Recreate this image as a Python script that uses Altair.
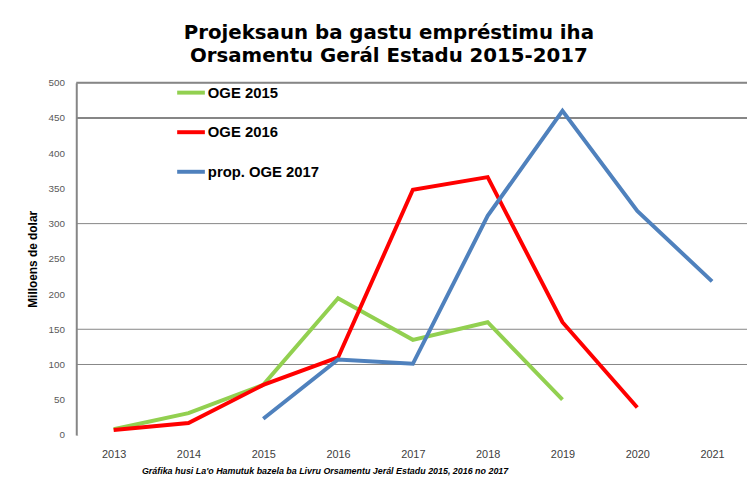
import altair as alt
import pandas as pd

# ---- data ----
years = [2013, 2014, 2015, 2016, 2017, 2018, 2019, 2020, 2021]
oge_2015 = [8, 31, 71, 194, 135, 160, 50, None, None]
oge_2016 = [7, 17, 71, 110, 348, 366, 160, 39, None]
oge_2017 = [None, None, 23, 107, 101, 311, 460, 318, 218]
series_names = ["OGE 2015", "OGE 2016", "prop. OGE 2017"]
series_colors = ["#92D050", "#FF0000", "#4F81BD"]
y_ticks = list(range(0, 501, 50))
grid_thin = [100, 150, 300]
grid_thick = [450, 500]
baseline_value = [0]

title_lines = ["Projeksaun ba gastu empréstimu iha", "Orsamentu Gerál Estadu 2015-2017"]
y_title = "Milloens de dolar"
x_title = "Gráfika husi La'o Hamutuk bazela ba Livru Orsamentu Jerál Estadu 2015, 2016 no 2017"

rows = []
for name, vals in zip(series_names, [oge_2015, oge_2016, oge_2017]):
    for yr, v in zip(years, vals):
        if v is not None:
            rows.append({"year": yr, "value": v, "series": name})
df = pd.DataFrame(rows)

PLOT_W, PLOT_H = 678, 356
x_scale = alt.Scale(domain=[2012.5, 2021.467], nice=False, zero=False)
y_scale = alt.Scale(domain=[0, 500], nice=False)

grid_col = "#868686"

y_axis = alt.Axis(
    values=y_ticks,
    grid=False,
    ticks=False,
    domain=True,
    domainColor=grid_col,
    domainWidth=2,
    labelFont="Liberation Sans",
    labelFontSize=10,
    labelColor="#595959",
    labelPadding=12,
    title=y_title,
    titleFont="Liberation Sans",
    titleFontSize=12,
    titleFontWeight="bold",
    titleColor="black",
    titleAngle=-90,
    titleX=-44,
    titleY=178,
    titleAlign="center",
    titleBaseline="middle",
)

x_axis = alt.Axis(
    values=years,
    format="d",
    grid=False,
    ticks=False,
    domain=False,
    labelFont="Liberation Sans",
    labelFontSize=11,
    labelColor="#404040",
    labelPadding=14,
    title=x_title,
    titleFont="Liberation Sans",
    titleFontSize=9,
    titleFontWeight="bold",
    titleFontStyle="italic",
    titleColor="black",
    titleX=251,
    titleY=36,
    titleAlign="center",
    titleBaseline="middle",
    titleAnchor="start",
)

thin = alt.Chart(pd.DataFrame({"g": grid_thin})).mark_rule(
    color=grid_col, strokeWidth=1
).encode(
    y=alt.Y("g:Q", scale=y_scale, axis=y_axis),
    x=alt.value(0),
    x2=alt.value(PLOT_W),
)

thick = alt.Chart(pd.DataFrame({"g": grid_thick})).mark_rule(
    color=grid_col, strokeWidth=2
).encode(
    y=alt.Y("g:Q", scale=y_scale, axis=y_axis),
    x=alt.value(0),
    x2=alt.value(PLOT_W),
)

# white cover along the bottom edge (the reference has no horizontal axis line)
cover = alt.Chart(pd.DataFrame({"g": baseline_value})).mark_rule(
    color="white", strokeWidth=3
).encode(
    y=alt.Y("g:Q", scale=y_scale, axis=y_axis),
    x=alt.value(2),
    x2=alt.value(PLOT_W),
)

lines = alt.Chart(df).mark_line(strokeWidth=4, clip=False).encode(
    x=alt.X("year:Q", scale=x_scale, axis=x_axis),
    y=alt.Y("value:Q", scale=y_scale, axis=y_axis),
    color=alt.Color(
        "series:N",
        scale=alt.Scale(domain=series_names, range=series_colors),
        legend=alt.Legend(
            title=None,
            orient="none",
            legendX=100,
            legendY=-6,
            symbolType="stroke",
            symbolStrokeWidth=4,
            symbolSize=784,
            labelFont="Liberation Sans",
            labelFontWeight="bold",
            labelFontSize=15,
            labelColor="black",
            labelOffset=1,
            rowPadding=16,
            padding=0,
        ),
    ),
    order=alt.Order("year:Q"),
)

chart = (
    alt.layer(thin, thick, cover, lines)
    .resolve_axis(y="shared")
    .properties(
        width=PLOT_W,
        height=PLOT_H,
        autosize=alt.AutoSizeParams(type="none"),
        padding={"left": 69, "top": 73, "right": 0, "bottom": 42},
        title=alt.TitleParams(
            text=title_lines,
            font="DejaVu Sans",
            fontSize=20,
            fontWeight="bold",
            color="black",
            anchor="middle",
            dx=-23,
            dy=-2,
            offset=9,
            lineHeight=23,
        ),
    )
    .configure_view(stroke="transparent", strokeWidth=0)
    .configure_axisX(domain=False)
    .configure(background="white")
)

chart.save("out.html", embed_options={"renderer": "svg", "actions": False})
